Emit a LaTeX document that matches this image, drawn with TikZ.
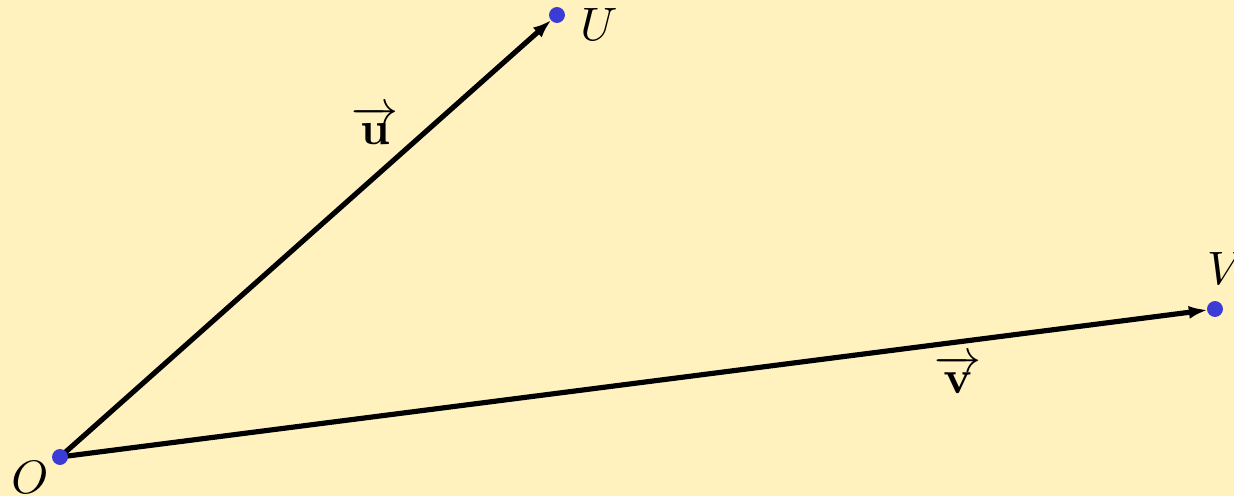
\documentclass[tikz,border=0pt]{standalone}
\usepackage{amsmath,amssymb}
\usepackage{tikz}
\usetikzlibrary{arrows.meta}
\definecolor{nennhat}{HTML}{FFF2BF}
\definecolor{diemxanh}{HTML}{3B3BD6}
\begin{document}
\begin{tikzpicture}[x=0.075mm, y=0.075mm, thick, >={Latex[length=4pt,width=2.8pt]}]
	% Nền và khung hình
	\fill[nennhat] (0,0) rectangle (1234,496);
	\useasboundingbox (0,0) rectangle (1234,496);
	% Các điểm gốc và ngọn
	\coordinate (O) at (60,39);
	\coordinate (U) at (557,481);
	\coordinate (V) at (1215,187);
	% Hai vectơ
	\draw[->, line width=1.1pt, shorten >=1.6pt] (O) -- (U);
	\draw[->, line width=1.1pt, shorten >=1.6pt] (O) -- (V);
	% Nhãn các vectơ và các điểm
	\node (nhanu) at (375,371) {$\overrightarrow{\mathbf{u}}$};
	\node (nhanv) at (958,122) {$\overrightarrow{\mathbf{v}}$};
	\node (nhanO) at (30,18) {$O$};
	\node (nhanU) at (599,472) {$U$};
	\node (nhanV) at (1226,228) {$V$};
	\foreach \p in {O, U, V} {
		\fill[diemxanh] (\p) circle (1.7pt);
	}
\end{tikzpicture}
\end{document}
